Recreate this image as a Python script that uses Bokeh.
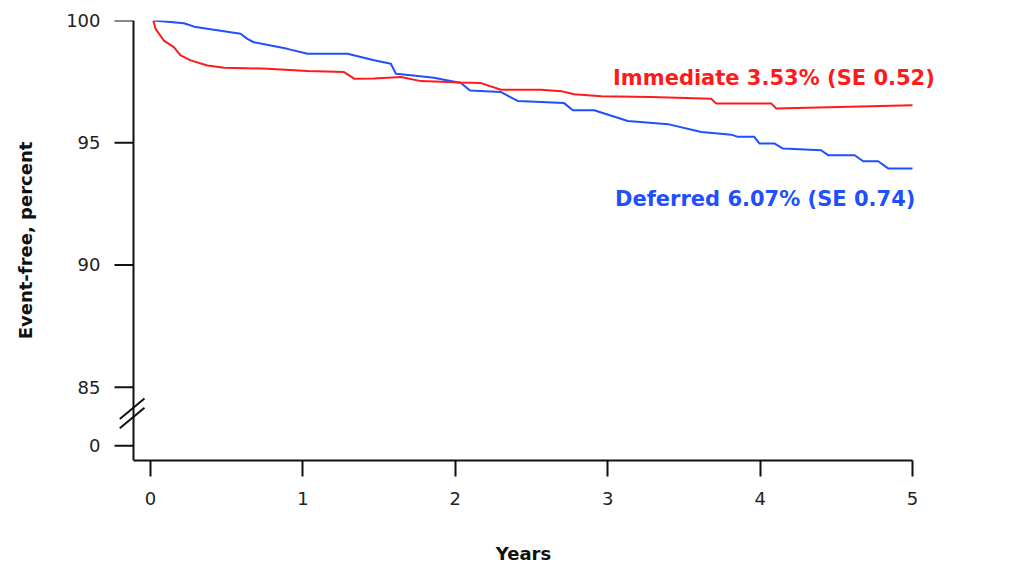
from bokeh.plotting import figure
from bokeh.models import Range1d, FixedTicker, CustomJSTickFormatter, Label
from bokeh.embed import file_html
from bokeh.resources import INLINE

# ---- data ----
immediate_years = [0.018, 0.033, 0.087, 0.153, 0.197, 0.263, 0.373, 0.482, 0.767, 1.03, 1.27, 1.336,
                   1.467, 1.643, 1.774, 2.037, 2.168, 2.30, 2.562, 2.694, 2.78, 2.957, 3.285, 3.679,
                   3.712, 4.074, 4.106, 4.382, 5.0]
immediate_pct = [100.0, 99.66, 99.18, 98.91, 98.57, 98.37, 98.16, 98.07, 98.03, 97.93, 97.89, 97.62,
                 97.63, 97.69, 97.52, 97.46, 97.44, 97.17, 97.17, 97.11, 96.98, 96.90, 96.87, 96.80,
                 96.60, 96.60, 96.40, 96.44, 96.53]

deferred_years = [0.02, 0.219, 0.296, 0.591, 0.635, 0.677, 0.898, 1.03, 1.292, 1.467, 1.577, 1.61,
                  1.708, 1.859, 2.037, 2.096, 2.30, 2.409, 2.714, 2.771, 2.911, 3.132, 3.395, 3.614,
                  3.811, 3.855, 3.962, 3.995, 4.093, 4.150, 4.40, 4.446, 4.621, 4.676, 4.775, 4.84, 5.0]
deferred_pct = [100.0, 99.89, 99.73, 99.46, 99.25, 99.11, 98.84, 98.64, 98.64, 98.37, 98.23, 97.82,
                97.76, 97.66, 97.44, 97.14, 97.07, 96.71, 96.62, 96.33, 96.33, 95.89, 95.76, 95.44,
                95.33, 95.24, 95.24, 94.97, 94.97, 94.76, 94.69, 94.49, 94.49, 94.24, 94.24, 93.95, 93.95]

x_ticks = [0, 1, 2, 3, 4, 5]
y_tick_labels = ["0", "85", "90", "95", "100"]
y_tick_pos = [82.6, 85, 90, 95, 100]   # 0 is placed below the axis break

immediate_label = "Immediate 3.53% (SE 0.52)"
deferred_label = "Deferred 6.07% (SE 0.74)"

RED = "#ff1a1a"
BLUE = "#1f4fff"
INK = "#111111"
FONT = "DejaVu Sans"

Y_AXIS_X = -0.112        # the y axis sits a little left of year 0
Y_MIN, Y_MAX = 82.0, 100.0
PX_PER_YEAR = 152.39
TICK_LEN_YEARS = 19 / PX_PER_YEAR

p = figure(width=1020, height=566, output_backend="svg", toolbar_location=None,
           x_range=Range1d(Y_AXIS_X - 25 / PX_PER_YEAR, 5.0 + 26 / PX_PER_YEAR),
           y_range=Range1d(Y_MIN, Y_MAX),
           min_border_left=108, min_border_right=82, min_border_top=20, min_border_bottom=105)
p.outline_line_color = None
p.xgrid.visible = False
p.ygrid.visible = False
p.background_fill_color = "white"
p.border_fill_color = "white"

p.line(deferred_years, deferred_pct, line_color=BLUE, line_width=2)
p.line(immediate_years, immediate_pct, line_color=RED, line_width=2)

for ax in (p.xaxis[0], p.yaxis[0]):
    ax.axis_line_width = 2
    ax.axis_line_color = INK
    ax.major_tick_line_width = 2
    ax.major_tick_line_color = INK
    ax.major_tick_in = 0
    ax.minor_tick_line_color = None
    ax.major_label_text_font = FONT
    ax.major_label_text_font_size = "18px"
    ax.major_label_text_color = "#222222"
    ax.axis_label_text_font = FONT
    ax.axis_label_text_font_size = "18px"
    ax.axis_label_text_font_style = "bold"
    ax.axis_label_text_color = INK

xa = p.xaxis[0]
xa.ticker = FixedTicker(ticks=x_ticks)
xa.bounds = (Y_AXIS_X, x_ticks[-1])
xa.major_tick_out = 16
xa.major_label_standoff = 15
xa.axis_label = "Years"
xa.axis_label_standoff = 35

ya = p.yaxis[0]
ya.ticker = FixedTicker(ticks=y_tick_pos)
ya.formatter = CustomJSTickFormatter(args=dict(pos=y_tick_pos, labels=y_tick_labels), code="""
    let best = 0;
    for (let i = 0; i < pos.length; i++) {
        if (Math.abs(pos[i] - tick) < Math.abs(pos[best] - tick)) best = i;
    }
    return labels[best];
""")
ya.axis_line_color = None
ya.major_tick_line_color = None
ya.major_tick_out = 0
ya.major_label_standoff = 8
ya.axis_label = "Event-free, percent"
ya.axis_label_standoff = 27

# y axis line and its tick marks, drawn at the axis position
p.segment(x0=[Y_AXIS_X], y0=[Y_MIN], x1=[Y_AXIS_X], y1=[Y_MAX], line_color=INK, line_width=2)
p.segment(x0=[Y_AXIS_X - TICK_LEN_YEARS] * len(y_tick_pos), y0=y_tick_pos,
          x1=[Y_AXIS_X] * len(y_tick_pos), y1=y_tick_pos, line_color=INK, line_width=2)

# axis break marks (two short slashes across the y axis between 0 and 85)
p.segment(x0=[-0.202, -0.202], y0=[83.70, 83.32], x1=[-0.040, -0.040], y1=[84.54, 84.16],
          line_color=INK, line_width=2)

p.add_layout(Label(x=3.035, y=97.63, text=immediate_label, text_align="left", text_baseline="middle",
                   text_font=FONT, text_font_style="bold", text_font_size="21px", text_color=RED))
p.add_layout(Label(x=3.048, y=92.69, text=deferred_label, text_align="left", text_baseline="middle",
                   text_font=FONT, text_font_style="bold", text_font_size="21px", text_color=BLUE))

open("out.html", "w").write(file_html(p, INLINE))
